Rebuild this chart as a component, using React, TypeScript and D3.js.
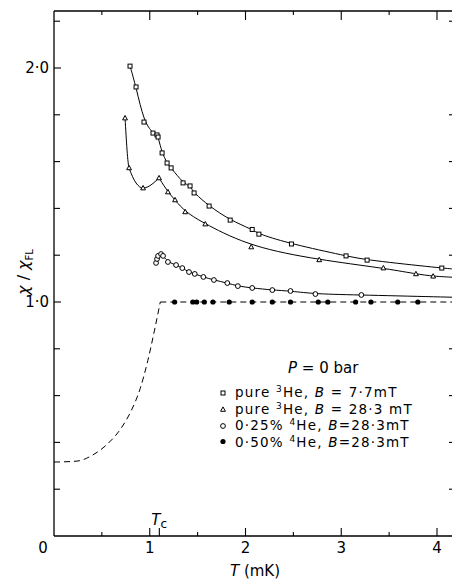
import React from 'react';
import * as d3 from 'd3';

// pure 3He, B = 7.7 mT  [T (mK), chi/chiFL]
const pureLowField = [
  [0.794, 2.008], [0.857, 1.919], [0.94, 1.769], [1.034, 1.722], [1.076, 1.714],
  [1.087, 1.705], [1.129, 1.637], [1.181, 1.594], [1.223, 1.573], [1.348, 1.509],
  [1.421, 1.496], [1.463, 1.466], [1.62, 1.41], [1.84, 1.35], [2.07, 1.31],
  [2.14, 1.29], [2.48, 1.248], [3.05, 1.197], [3.27, 1.179], [4.05, 1.145],
];
// pure 3He, B = 28.3 mT (cusp at index 3)
const pureHighField = [
  [0.742, 1.786], [0.784, 1.573], [0.93, 1.487], [1.097, 1.53], [1.19, 1.47],
  [1.264, 1.436], [1.37, 1.385], [1.58, 1.333], [2.06, 1.235], [2.77, 1.18],
  [3.44, 1.145], [3.78, 1.12], [3.96, 1.11],
];
const cuspIndex = 3;
// 0.25% 4He, B = 28.3 mT
const mix025 = [
  [1.066, 1.167], [1.076, 1.184], [1.087, 1.197], [1.118, 1.205], [1.139, 1.197],
  [1.19, 1.171], [1.275, 1.158], [1.34, 1.145], [1.41, 1.128], [1.47, 1.12],
  [1.56, 1.107], [1.67, 1.094], [1.81, 1.081], [1.92, 1.068], [2.07, 1.06],
  [2.28, 1.051], [2.47, 1.047], [2.73, 1.034], [3.21, 1.03],
];
// 0.50% 4He, B = 28.3 mT
const mix050T = [1.26, 1.45, 1.49, 1.57, 1.66, 1.83, 2.07, 2.28, 2.47, 2.76, 2.86, 3.15, 3.31, 3.59, 3.8];
const mix050Chi = 1.0;
// line ends at the right border
const tailLowField = [4.2, 1.14];
const tailHighField = [4.2, 1.105];
const tail025 = [4.2, 1.02];
// dashed line (superfluid), then flat at 1.0 above Tc
const dashedCurve = [
  [0, 0.316], [0.24, 0.32], [0.4, 0.345], [0.55, 0.39], [0.7, 0.46],
  [0.8, 0.53], [0.9, 0.63], [0.98, 0.75], [1.05, 0.88], [1.11, 1.0],
];
const dashedFlat = [[1.11, 1.0], [4.2, 1.0]];
const tc = 1.1;
const xMajor = [0, 1, 2, 3, 4];
const xMinor = [0.5, 1.5, 2.5, 3.5];
const yMajor = [1, 2];
const yMinor = [0.2, 0.4, 0.6, 0.8, 1.2, 1.4, 1.6, 1.8, 2.2];

const W = 452;
const H = 580;
const font = '"DejaVu Sans", sans-serif';

export default function App() {
  const x = d3.scaleLinear().domain([0, 4]).range([54, 437]);
  const y = d3.scaleLinear().domain([0, 2]).range([536, 68]);
  const top = 11;
  const right = 455;
  const bottom = y(0);
  const left = x(0);

  const lineBasis = d3.line<number[]>().x((d) => x(d[0])).y((d) => y(d[1])).curve(d3.curveBasis);
  const lineMono = d3.line<number[]>().x((d) => x(d[0])).y((d) => y(d[1])).curve(d3.curveMonotoneX);
  const lineLin = d3.line<number[]>().x((d) => x(d[0])).y((d) => y(d[1]));

  const sq = (cx: number, cy: number, k: string) => (
    <rect key={k} x={cx - 2} y={cy - 2} width={4} height={4} fill="white" stroke="black" strokeWidth={1} />
  );
  const tri = (cx: number, cy: number, k: string) => (
    <path key={k} d={`M${cx},${cy - 2.6}L${cx + 2.4},${cy + 1.8}L${cx - 2.4},${cy + 1.8}Z`} fill="white" stroke="black" strokeWidth={1} />
  );
  const circ = (cx: number, cy: number, k: string) => (
    <circle key={k} cx={cx} cy={cy} r={2.4} fill="white" stroke="black" strokeWidth={1} />
  );
  const dot = (cx: number, cy: number, k: string) => <circle key={k} cx={cx} cy={cy} r={2.6} fill="black" />;

  const textStyle = { fontFamily: font, fontSize: 15, fill: 'black' } as const;
  const legendStyle = { fontFamily: font, fontSize: 13.5, letterSpacing: 1.2, fill: 'black' } as const;
  const legendY = [397, 413.5, 430, 446.5];

  return (
    <svg width={W} height={H} style={{ position: 'absolute', left: 0, top: 0, background: 'white' }}>
      {/* frame */}
      <g stroke="black" strokeWidth={1.3} fill="none">
        <line x1={left} x2={W} y1={top} y2={top} />
        <line x1={left} x2={left} y1={top} y2={bottom} />
        <line x1={left} x2={W} y1={bottom} y2={bottom} />
        <line x1={right} x2={right} y1={top} y2={bottom} />
      </g>
      <g stroke="black" strokeWidth={1.1}>
        {xMajor.filter((t) => t > 0).map((t) => (
          <g key={'xM' + t}>
            <line x1={x(t)} x2={x(t)} y1={bottom} y2={bottom - 8} />
            <line x1={x(t)} x2={x(t)} y1={top} y2={top + 9} />
          </g>
        ))}
        {xMinor.map((t) => (
          <g key={'xm' + t}>
            <line x1={x(t)} x2={x(t)} y1={bottom} y2={bottom - 4} />
            <line x1={x(t)} x2={x(t)} y1={top} y2={top + 4} />
          </g>
        ))}
        <line x1={x(tc)} x2={x(tc)} y1={bottom} y2={bottom - 8} />
        {yMajor.map((v) => (
          <line key={'yM' + v} x1={left} x2={left + 7} y1={y(v)} y2={y(v)} />
        ))}
        {yMinor.map((v) => (
          <g key={'ym' + v}>
            <line x1={left} x2={left + 6} y1={y(v)} y2={y(v)} />
            <line x1={right} x2={right - 6} y1={y(v)} y2={y(v)} />
          </g>
        ))}
      </g>

      {/* tick labels */}
      {xMajor.map((t) => (
        <text key={'xl' + t} x={t === 0 ? x(t) - 11 : x(t)} y={553} textAnchor="middle" style={textStyle}>
          {t}
        </text>
      ))}
      {yMajor.map((v) => (
        <text key={'yl' + v} x={left - 5} y={y(v) + 5} textAnchor="end" style={textStyle}>
          {`${v}·0`}
        </text>
      ))}
      <text x={255} y={576} textAnchor="middle" style={textStyle}>
        <tspan fontStyle="italic">T</tspan> (mK)
      </text>
      <text transform="translate(29,272) rotate(-90)" textAnchor="middle" style={{ ...textStyle, fontSize: 16 }}>
        <tspan fontStyle="italic">χ</tspan> / <tspan fontStyle="italic">χ</tspan>
        <tspan dy={4} fontSize={10}>FL</tspan>
      </text>
      <text x={x(tc) - 8} y={525} style={textStyle}>
        <tspan fontStyle="italic">T</tspan>
        <tspan dy={3} fontSize={12}>c</tspan>
      </text>

      {/* curves */}
      <g fill="none" stroke="black" strokeWidth={1}>
        <path d={lineMono(dashedCurve) ?? ''} strokeDasharray="6,4" />
        <path d={lineLin(dashedFlat) ?? ''} strokeDasharray="6,4" />
        <path d={lineBasis([...pureLowField, tailLowField]) ?? ''} />
        <path d={lineMono(pureHighField.slice(0, cuspIndex + 1)) ?? ''} />
        <path d={lineBasis([...pureHighField.slice(cuspIndex), tailHighField]) ?? ''} />
        <path d={lineBasis([...mix025.slice(1), tail025]) ?? ''} />
      </g>

      {/* markers */}
      {pureLowField.map((d, i) => sq(x(d[0]), y(d[1]), 's' + i))}
      {pureHighField.map((d, i) => tri(x(d[0]), y(d[1]), 't' + i))}
      {mix025.map((d, i) => circ(x(d[0]), y(d[1]), 'c' + i))}
      {mix050T.map((t, i) => dot(x(t), y(mix050Chi), 'd' + i))}

      {/* legend */}
      <text x={288} y={373} style={textStyle}>
        <tspan fontStyle="italic">P</tspan> = 0 bar
      </text>
      {sq(223, legendY[0] - 4, 'ls')}
      {tri(223, legendY[1] - 4, 'lt')}
      {circ(223, legendY[2] - 4, 'lc')}
      {dot(223, legendY[3] - 5, 'ld')}
      <text x={235} y={legendY[0]} style={legendStyle}>
        pure <tspan dy={-5} fontSize={9}>3</tspan>
        <tspan dy={5}>He, </tspan>
        <tspan fontStyle="italic">B</tspan> = 7·7mT
      </text>
      <text x={235} y={legendY[1]} style={legendStyle}>
        pure <tspan dy={-5} fontSize={9}>3</tspan>
        <tspan dy={5}>He, </tspan>
        <tspan fontStyle="italic">B</tspan> = 28·3 mT
      </text>
      <text x={235} y={legendY[2]} style={legendStyle}>
        0·25% <tspan dy={-5} fontSize={9}>4</tspan>
        <tspan dy={5}>He, </tspan>
        <tspan fontStyle="italic">B</tspan>=28·3mT
      </text>
      <text x={235} y={legendY[3]} style={legendStyle}>
        0·50% <tspan dy={-5} fontSize={9}>4</tspan>
        <tspan dy={5}>He, </tspan>
        <tspan fontStyle="italic">B</tspan>=28·3mT
      </text>
    </svg>
  );
}
